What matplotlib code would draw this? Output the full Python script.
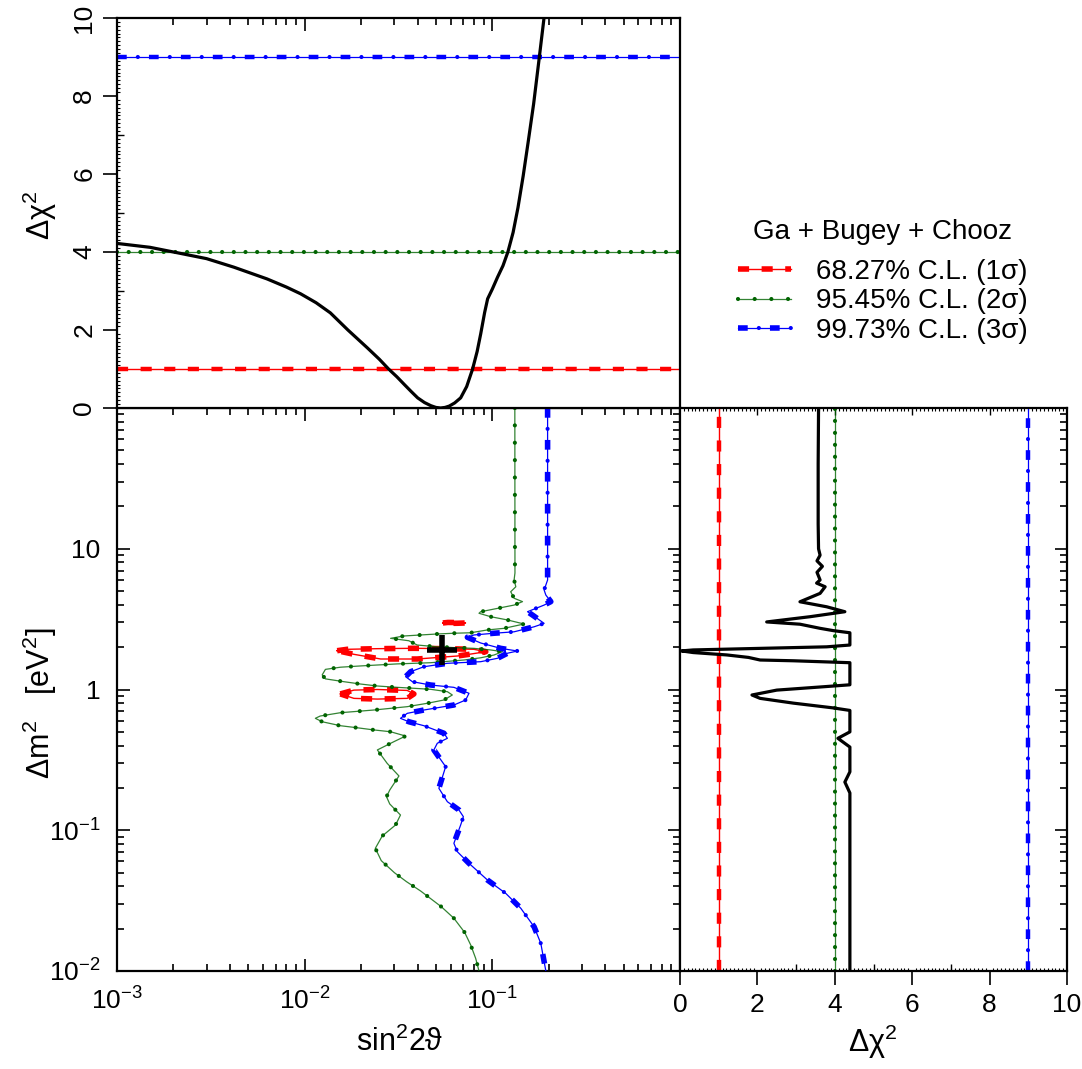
import numpy as np
import matplotlib
matplotlib.use('Agg')
import matplotlib.pyplot as plt
from matplotlib.ticker import FixedLocator, FixedFormatter, LogLocator, MultipleLocator, NullFormatter
from matplotlib.lines import Line2D
from matplotlib.legend_handler import HandlerTuple

plt.rcParams['font.family'] = ['Liberation Sans', 'DejaVu Sans']
plt.rcParams['mathtext.fontset'] = 'custom'
plt.rcParams['mathtext.rm'] = 'Liberation Sans'
plt.rcParams['mathtext.it'] = 'Liberation Sans:italic'
plt.rcParams['mathtext.bf'] = 'Liberation Sans:bold'
plt.rcParams['lines.scale_dashes'] = False
plt.rcParams['axes.linewidth'] = 1.6

# ---------------- data ----------------
# top panel: delta chi^2 vs sin^2 2theta
top_s = [0.001, 0.0015, 0.002, 0.003, 0.0042, 0.0063, 0.008, 0.0095, 0.0115, 0.0137,
         0.017, 0.0216, 0.025, 0.028, 0.031, 0.034, 0.037, 0.040, 0.0435, 0.047,
         0.050, 0.053, 0.056, 0.059, 0.063, 0.0678, 0.073, 0.0785, 0.083, 0.0867,
         0.091, 0.0944, 0.100, 0.1065, 0.114, 0.121, 0.129, 0.137, 0.146, 0.155,
         0.166, 0.177, 0.188, 0.192]
top_chi = [4.22, 4.12, 4.0, 3.83, 3.61, 3.31, 3.10, 2.93, 2.70, 2.44,
           2.0, 1.54, 1.25, 1.0, 0.8, 0.6, 0.42, 0.26, 0.14, 0.06,
           0.015, 0.0, 0.015, 0.05, 0.13, 0.26, 0.55, 1.0, 1.45, 1.9,
           2.45, 2.8, 3.05, 3.35, 3.65, 4.0, 4.5, 5.14, 5.95, 6.8,
           7.8, 8.9, 9.95, 10.4]

# right panel: delta chi^2 vs delta m^2
rp_dm2 = [100, 40, 15, 10, 9.0, 8.2, 7.5, 6.8, 6.0, 5.7, 5.37, 4.82, 4.2, 3.87, 3.57,
          3.29, 3.02, 2.91, 2.72, 2.62, 2.53, 2.07, 2.01, 1.96, 1.91, 1.88, 1.83, 1.76,
          1.69, 1.62, 1.60, 1.55, 1.08, 1.05, 0.99, 0.914, 0.865, 0.80, 0.74, 0.71,
          0.50, 0.45, 0.39, 0.26, 0.22, 0.184, 0.01]
rp_chi = [3.58, 3.57, 3.57, 3.58, 3.62, 3.54, 3.68, 3.54, 3.62, 3.53, 3.75, 3.62, 3.10, 3.79, 4.26,
          3.36, 2.24, 3.10, 3.62, 3.96, 4.39, 4.39, 3.79, 2.07, 0.34, 0.04, 0.34, 1.21,
          1.77, 2.07, 2.93, 4.39, 4.39, 3.79, 2.50, 1.86, 2.07, 2.93, 3.96, 4.39,
          4.39, 4.08, 4.39, 4.39, 4.26, 4.39, 4.39]

# 1 sigma contours
red1_s = [0.0149, 0.01684, 0.0244, 0.0381, 0.0575, 0.0798, 0.0923, 0.0736, 0.0652, 0.0398, 0.0254, 0.0183, 0.0149]
red1_dm = [1.887, 1.93, 1.95, 1.962, 1.95, 1.93, 1.856, 1.77, 1.73, 1.647, 1.647, 1.778, 1.887]
red2_s = [0.0155, 0.0183, 0.0244, 0.0352, 0.0382, 0.0352, 0.0244, 0.0183, 0.0155]
red2_dm = [0.93, 0.99, 1.0, 0.985, 0.93, 0.865, 0.855, 0.865, 0.93]
red3_s = [0.0545, 0.058, 0.065, 0.072, 0.065, 0.058, 0.0545]
red3_dm = [2.97, 2.995, 2.99, 2.97, 2.955, 2.95, 2.97]

# 2 sigma contour
green_s = [0.1318, 0.132, 0.1306, 0.1334, 0.1253, 0.1306, 0.1448, 0.1306, 0.1065, 0.0867,
           0.0849, 0.098, 0.1204, 0.1476, 0.1155, 0.0942, 0.0767, 0.0624, 0.0509, 0.0415,
           0.0338, 0.0287, 0.0359, 0.0398, 0.0509, 0.0651, 0.0798, 0.098, 0.1132, 0.1021,
           0.0867, 0.0706, 0.0469, 0.0311, 0.0198, 0.0155, 0.0129, 0.0124, 0.0129, 0.0162,
           0.0198, 0.0244, 0.0311, 0.0382, 0.0469, 0.0576, 0.0612, 0.0552, 0.045, 0.0352,
           0.0234, 0.0155, 0.0121, 0.0114, 0.0124, 0.0155, 0.019, 0.0234, 0.0287, 0.0345,
           0.0299, 0.0244, 0.0275, 0.0318, 0.0284, 0.0273, 0.0284, 0.0324, 0.0305, 0.0259,
           0.0238, 0.0256, 0.0301, 0.0349, 0.0415, 0.0535, 0.0624, 0.0712, 0.0767, 0.0815, 0.0849]
green_dm = [100, 6.73, 6.0, 5.37, 4.95, 4.45, 4.21, 3.98, 3.77, 3.57,
            3.48, 3.29, 3.12, 2.92, 2.72, 2.65, 2.53, 2.51, 2.48, 2.44,
            2.40, 2.31, 2.22, 2.07, 2.01, 1.98, 1.96, 1.91, 1.856, 1.758,
            1.68, 1.62, 1.55, 1.52, 1.47, 1.44, 1.39, 1.27, 1.19, 1.136,
            1.094, 1.059, 1.036, 1.02, 1.003, 0.965, 0.914, 0.842, 0.798, 0.755,
            0.715, 0.684, 0.648, 0.624, 0.59, 0.553, 0.535, 0.516, 0.501, 0.467,
            0.426, 0.372, 0.299, 0.243, 0.193, 0.173, 0.1537, 0.1283, 0.109, 0.091,
            0.0744, 0.0608, 0.0499, 0.0431, 0.037, 0.0286, 0.0237, 0.0188, 0.0153, 0.0123, 0.01]

# 3 sigma contour
blue_s = [0.197, 0.197, 0.197, 0.1888, 0.1928, 0.205, 0.1888, 0.154, 0.1637, 0.1888,
          0.167, 0.1306, 0.1021, 0.0798, 0.0736, 0.0867, 0.1109, 0.1361, 0.1204, 0.1065,
          0.0867, 0.0576, 0.0432, 0.0367, 0.0345, 0.0375, 0.0469, 0.0624, 0.0751, 0.0721,
          0.0624, 0.0432, 0.0352, 0.0324, 0.0359, 0.0432, 0.0552, 0.0576, 0.0509, 0.0488,
          0.0564, 0.0519, 0.0576, 0.0664, 0.0701, 0.0678, 0.0624, 0.0651, 0.0751, 0.0942,
          0.1179, 0.1418, 0.167, 0.1813, 0.1928]
blue_dm = [100, 7.06, 6.0, 5.09, 4.69, 4.21, 3.98, 3.57, 3.38, 2.95,
           2.79, 2.57, 2.51, 2.44, 2.35, 2.14, 1.96, 1.877, 1.81, 1.666,
           1.576, 1.535, 1.452, 1.338, 1.233, 1.136, 1.076, 1.036, 0.94, 0.842,
           0.776, 0.715, 0.677, 0.624, 0.59, 0.553, 0.489, 0.45, 0.415, 0.372,
           0.283, 0.1986, 0.1595, 0.1393, 0.1248, 0.109, 0.0808, 0.0704, 0.0582, 0.0443,
           0.0356, 0.0279, 0.0206, 0.0157, 0.01]

best_s = [0.054]
best_dm = [1.91]

cl_levels = [1.0, 4.0, 9.0]
cl_labels = ['68.27% C.L. (1σ)', '95.45% C.L. (2σ)', '99.73% C.L. (3σ)']
legend_title = 'Ga + Bugey + Chooz'

main_xticks = [1e-3, 1e-2, 1e-1, 1]
main_xticklabels = ['$10^{-3}$', '$10^{-2}$', '$10^{-1}$', '']
main_yticks = [1e-2, 1e-1, 1, 10, 100]
main_yticklabels = ['$10^{-2}$', '$10^{-1}$', '1', '10', '']
chi_ticks = [0, 2, 4, 6, 8, 10]
chi_ticklabels = ['0', '2', '4', '6', '8', '10']

GREEN = '#006400'
RED = '#ff0000'
BLUE = '#0000ff'

TICK_FS = 19
LABEL_FS = 22
LEG_FS = 20

# ---------------- style helpers ----------------
def style_kwargs(kind, dotgap, thick=3.2):
    """Return list of kwargs dicts for the layered line style."""
    if kind == 'red':
        return [dict(color=RED, lw=1.0),
                dict(color=RED, lw=thick, ls=(0, (8, 9)), dash_capstyle='butt')]
    if kind == 'green':
        return [dict(color=GREEN, lw=0.9, alpha=0.8),
                dict(color=GREEN, lw=3.0, ls=(0, (0.01, dotgap)), dash_capstyle='round')]
    return [dict(color=BLUE, lw=0.9),
            dict(color=BLUE, lw=thick, ls=(0, (7, 16)), dash_capstyle='butt'),
            dict(color=BLUE, lw=3.0, ls=(8, (0.01, 22.99)), dash_capstyle='round')]


def draw_curve(ax, x, y, kind, dotgap=12.0, z=3):
    for kw in style_kwargs(kind, dotgap, thick=4.0):
        ax.plot(x, y, zorder=z, **kw)


def draw_hline(ax, y, kind, dotgap=8.4):
    for kw in style_kwargs(kind, dotgap):
        ax.axhline(y, zorder=2, **kw)


def draw_vline(ax, x, kind, dotgap=8.6):
    for kw in style_kwargs(kind, dotgap):
        ax.axvline(x, zorder=2, **kw)


# ---------------- figure ----------------
W, H = 1082, 1069
fig = plt.figure(figsize=(W / 100, H / 100), dpi=100)

def fx(px):
    return px / W

def fy(py):
    return 1 - py / H

ax_m = fig.add_axes([fx(117), fy(971), fx(680) - fx(117), fy(408) - fy(971)])
ax_t = fig.add_axes([fx(117), fy(408), fx(680) - fx(117), fy(18) - fy(408)])
ax_r = fig.add_axes([fx(680), fy(971), fx(1067) - fx(680), fy(408) - fy(971)])

kinds = ['red', 'green', 'blue']

# main panel
ax_m.set_xscale('log')
ax_m.set_yscale('log')
draw_curve(ax_m, red1_s, red1_dm, 'red')
draw_curve(ax_m, red2_s, red2_dm, 'red')
draw_curve(ax_m, red3_s, red3_dm, 'red')
draw_curve(ax_m, green_s, green_dm, 'green', dotgap=12.5)
draw_curve(ax_m, blue_s, blue_dm, 'blue')
ax_m.plot(best_s, best_dm, marker='+', ms=22, mew=4.0, color='black', ls='none', zorder=6)
ax_m.set_xlim(1e-3, 1)
ax_m.set_ylim(1e-2, 1e2)
ax_m.xaxis.set_major_locator(FixedLocator(main_xticks))
ax_m.xaxis.set_major_formatter(FixedFormatter(main_xticklabels))
ax_m.xaxis.set_minor_locator(LogLocator(base=10, subs=np.arange(2, 10)))
ax_m.xaxis.set_minor_formatter(NullFormatter())
ax_m.yaxis.set_major_locator(FixedLocator(main_yticks))
ax_m.yaxis.set_major_formatter(FixedFormatter(main_yticklabels))
ax_m.yaxis.set_minor_locator(LogLocator(base=10, subs=np.arange(2, 10)))
ax_m.yaxis.set_minor_formatter(NullFormatter())
ax_m.tick_params(which='both', direction='in', top=True, right=True, width=1.2)
ax_m.tick_params(which='major', length=9, labelsize=TICK_FS)
ax_m.tick_params(which='minor', length=5)
ax_m.tick_params(axis='x', which='major', pad=12)
ax_m.tick_params(axis='y', which='major', pad=12)

# top panel
ax_t.set_xscale('log')
for lev, k in zip(cl_levels, kinds):
    draw_hline(ax_t, lev, k, dotgap=8.4)
ax_t.plot(top_s, top_chi, color='black', lw=2.3, zorder=4)
ax_t.set_xlim(1e-3, 1)
ax_t.set_ylim(0, 10)
ax_t.xaxis.set_major_locator(FixedLocator(main_xticks))
ax_t.xaxis.set_minor_locator(LogLocator(base=10, subs=np.arange(2, 10)))
ax_t.xaxis.set_major_formatter(NullFormatter())
ax_t.xaxis.set_minor_formatter(NullFormatter())
ax_t.tick_params(axis='x', which='both', direction='in', top=True, bottom=False,
                 labelbottom=False, width=1.2)
ax_t.tick_params(axis='x', which='major', length=9)
ax_t.tick_params(axis='x', which='minor', length=5)
ax_t.yaxis.set_major_locator(FixedLocator(chi_ticks))
ax_t.yaxis.set_major_formatter(FixedFormatter(chi_ticklabels))
ax_t.yaxis.set_minor_locator(MultipleLocator(0.1))
ax_t.tick_params(axis='y', which='major', direction='out', length=10, width=1.2,
                 labelsize=TICK_FS, pad=5, labelrotation=90)
ax_t.tick_params(axis='y', which='minor', direction='in', length=2.2, width=0.8)
for lab in ax_t.get_yticklabels():
    lab.set_va('center')
sec_t = ax_t.secondary_yaxis('left')
sec_t.set_yticks([1, 3, 5, 7, 9])
sec_t.tick_params(direction='in', length=5, width=1.0, labelleft=False)
sec_t.spines['left'].set_visible(False)

# right panel
ax_r.set_yscale('log')
for lev, k in zip(cl_levels, kinds):
    draw_vline(ax_r, lev, k, dotgap=8.6)
ax_r.plot(rp_chi, rp_dm2, color='black', lw=2.3, zorder=4)
ax_r.set_xlim(0, 10)
ax_r.set_ylim(1e-2, 1e2)
ax_r.xaxis.set_major_locator(FixedLocator(chi_ticks))
ax_r.xaxis.set_major_formatter(FixedFormatter(chi_ticklabels))
ax_r.xaxis.set_minor_locator(MultipleLocator(0.1))
ax_r.tick_params(axis='x', which='major', direction='out', length=10, width=1.2,
                 labelsize=TICK_FS, pad=6, top=False)
ax_r.tick_params(axis='x', which='minor', direction='in', length=2.2, width=0.8,
                 top=True, bottom=True)
ax_r.yaxis.set_major_locator(FixedLocator(main_yticks))
ax_r.yaxis.set_minor_locator(LogLocator(base=10, subs=np.arange(2, 10)))
ax_r.yaxis.set_major_formatter(NullFormatter())
ax_r.yaxis.set_minor_formatter(NullFormatter())
ax_r.tick_params(axis='y', which='both', direction='in', left=False, right=True,
                 labelleft=False, width=1.2)
ax_r.tick_params(axis='y', which='major', length=9)
ax_r.tick_params(axis='y', which='minor', length=5)
sec_r = ax_r.secondary_xaxis('bottom')
sec_r.set_xticks([1, 3, 5, 7, 9])
sec_r.tick_params(direction='in', length=5, width=1.0, labelbottom=False)
sec_r.spines['bottom'].set_visible(False)
sec_r2 = ax_r.secondary_xaxis('top')
sec_r2.set_xticks([2, 4, 6, 8])
sec_r2.tick_params(direction='in', length=5, width=1.0, labeltop=False)
sec_r2.spines['top'].set_visible(False)

# axis labels
fig.text(fx(40), fy(215), 'Δχ$^2$', rotation=90, ha='center', va='center', fontsize=LABEL_FS)
fig.text(fx(40), fy(703), 'Δm$^2$   [eV$^2$]', rotation=90, ha='center', va='center', fontsize=LABEL_FS)
fig.text(fx(400), fy(1042), 'sin$^2$2ϑ', ha='center', va='center', fontsize=LABEL_FS)
fig.text(fx(873), fy(1042), 'Δχ$^2$', ha='center', va='center', fontsize=LABEL_FS)

# legend
def legend_handle(kind, dotgap):
    return tuple(Line2D([], [], **kw) for kw in style_kwargs(kind, dotgap, thick=4.0))

handles = [legend_handle(k, 12.0) for k in kinds]
leg = fig.legend(handles, cl_labels, title=legend_title, loc='upper left',
                 bbox_to_anchor=(fx(738), fy(219)), frameon=False, fontsize=LEG_FS,
                 title_fontsize=LEG_FS, handlelength=1.9, handletextpad=0.9,
                 labelspacing=0.12, borderpad=0, borderaxespad=0,
                 handler_map={tuple: HandlerTuple(ndivide=1)})
leg._legend_box.sep = 10

fig.savefig('out.png', dpi=100)
